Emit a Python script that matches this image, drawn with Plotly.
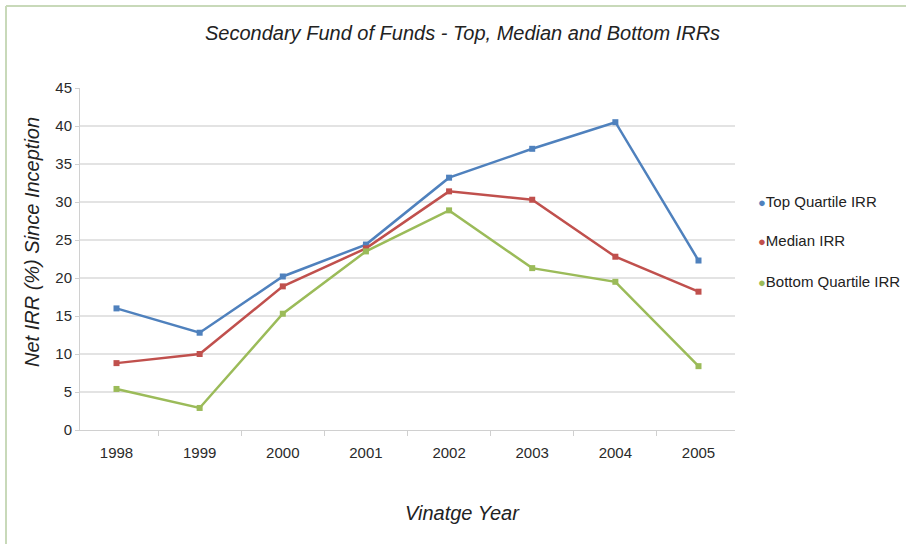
import plotly.graph_objects as go

years = ["1998", "1999", "2000", "2001", "2002", "2003", "2004", "2005"]
top_quartile = [16.0, 12.8, 20.2, 24.4, 33.2, 37.0, 40.5, 22.3]
median = [8.8, 10.0, 18.9, 23.9, 31.4, 30.3, 22.8, 18.2]
bottom_quartile = [5.4, 2.9, 15.3, 23.5, 28.9, 21.3, 19.5, 8.4]
series_names = ["Top Quartile IRR", "Median IRR", "Bottom Quartile IRR"]
colors = ["#4F81BD", "#C0504D", "#9BBB59"]
y_ticks = [0, 5, 10, 15, 20, 25, 30, 35, 40, 45]

W, H = 906, 544
ML, MR, MT, MB = 80, 171, 88, 114
FONT = "Liberation Sans, Arial, sans-serif"

fig = go.Figure()
for name, vals, col in zip(series_names, [top_quartile, median, bottom_quartile], colors):
    fig.add_trace(go.Scatter(
        x=years, y=vals, name=name, mode="lines+markers",
        line=dict(color=col, width=2.5),
        marker=dict(symbol="square", size=6, color=col),
        showlegend=False,
    ))

pw = W - ML - MR
ph = H - MT - MB

def px_x(p):
    return (p - ML) / pw

def px_y(p):
    return (H - MB - p) / ph

annotations = [
    dict(text="Secondary Fund of Funds - Top, Median and Bottom IRRs",
         xref="paper", yref="paper", x=px_x(463), y=px_y(33),
         xanchor="center", yanchor="middle", showarrow=False,
         font=dict(family=FONT, size=20, color="#222222", style="italic")),
    dict(text="Vinatge Year",
         xref="paper", yref="paper", x=px_x(462), y=px_y(513),
         xanchor="center", yanchor="middle", showarrow=False,
         font=dict(family=FONT, size=20, color="#222222", style="italic")),
    dict(text="Net IRR (%) Since Inception", textangle=-90,
         xref="paper", yref="paper", x=px_x(32), y=px_y(242),
         xanchor="center", yanchor="middle", showarrow=False,
         font=dict(family=FONT, size=20, color="#222222", style="italic")),
]
legend_y = [201, 240, 281]
for name, col, ly in zip(series_names, colors, legend_y):
    annotations.append(dict(
        text=f"<span style='color:{col};font-size:13px'>\u25cf</span>{name}",
        xref="paper", yref="paper", x=px_x(756), y=px_y(ly),
        xanchor="left", yanchor="middle", showarrow=False,
        font=dict(family=FONT, size=15, color="#222222"),
    ))

fig.update_layout(
    width=W, height=H,
    margin=dict(l=ML, r=MR, t=MT, b=MB),
    paper_bgcolor="white", plot_bgcolor="white",
    font=dict(family=FONT, color="#333333"),
    xaxis=dict(
        type="category", showgrid=False,
        showline=True, linecolor="#D0D0D0", linewidth=1,
        ticks="outside", ticklen=5, tickcolor="#D0D0D0", tickson="boundaries",
        tickfont=dict(size=15, color="#2A2A2A"), ticklabelstandoff=9,
    ),
    yaxis=dict(
        range=[0, 45], tickvals=y_ticks,
        showgrid=True, gridcolor="#E3E3E3", gridwidth=1.5,
        showline=True, linecolor="#D0D0D0", linewidth=1,
        ticks="outside", ticklen=4, tickcolor="#D0D0D0",
        tickfont=dict(size=15, color="#2A2A2A"),
        zeroline=False,
    ),
    annotations=annotations,
    shapes=[
        dict(type="line", xref="paper", yref="paper",
             x0=px_x(6), x1=px_x(6), y0=px_y(6), y1=px_y(H + 5),
             line=dict(color="#C8D9B9", width=2)),
        dict(type="line", xref="paper", yref="paper",
             x0=px_x(6), x1=px_x(W + 5), y0=px_y(6), y1=px_y(6),
             line=dict(color="#C8D9B9", width=2)),
    ],
)

fig.write_html("out.html")
